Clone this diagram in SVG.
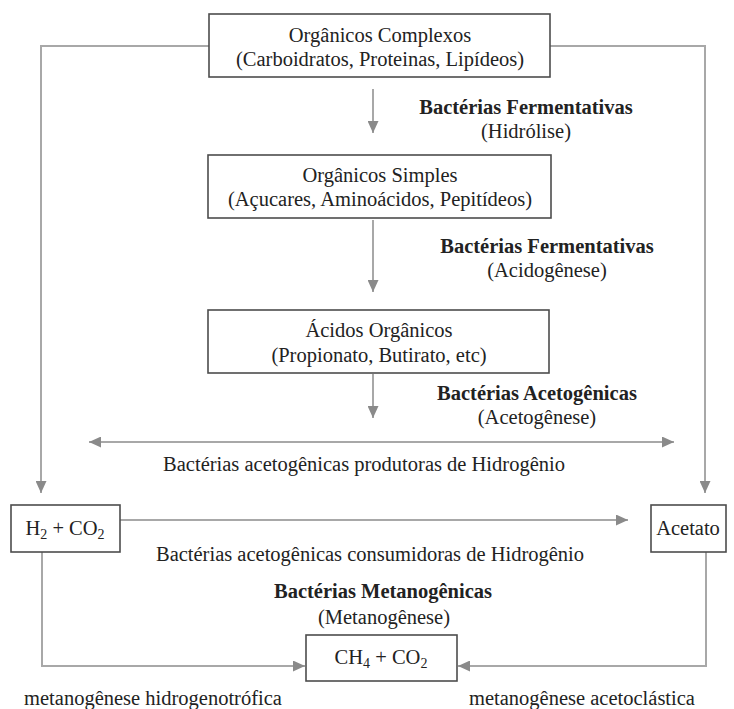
<svg xmlns="http://www.w3.org/2000/svg" width="734" height="709" viewBox="0 0 734 709">
  <style>
    text { font-family: "Liberation Serif", "Times New Roman", serif; font-size: 20.5px; fill: #222; text-anchor: middle; }
    .b { font-weight: bold; }
    .sub { font-size: 14px; }
    .box { fill: #fff; stroke: #4d4d4d; stroke-width: 1.6; }
    .con { fill: none; stroke: #a8a8a8; stroke-width: 2; }
  </style>
  <defs>
    <marker id="ah" markerUnits="userSpaceOnUse" markerWidth="13" markerHeight="11" refX="12" refY="5.5" orient="auto-start-reverse">
      <path d="M0,0 L12,5.5 L0,11 z" fill="#8a8a8a"/>
    </marker>
  </defs>
  <rect width="734" height="709" fill="#fff"/>

  <g id="connectors">
    <path class="con" d="M209,46 H41 V493" marker-end="url(#ah)"/>
    <path class="con" d="M550,46 H705 V493" marker-end="url(#ah)"/>
    <path class="con" d="M373,89 V133" marker-end="url(#ah)"/>
    <path class="con" d="M373,220 V292" marker-end="url(#ah)"/>
    <path class="con" d="M373,374 V418" marker-end="url(#ah)"/>
    <path class="con" d="M89,442 H674" marker-start="url(#ah)" marker-end="url(#ah)"/>
    <path class="con" d="M120,520 H628" marker-end="url(#ah)"/>
    <path class="con" d="M42,552 V666 H305" marker-end="url(#ah)"/>
    <path class="con" d="M706,552 V666 H458" marker-end="url(#ah)"/>
  </g>

  <g id="organicos-complexos">
    <rect class="box" x="209" y="14" width="341" height="63"/>
    <text x="380" y="42">Orgânicos Complexos</text>
    <text x="380" y="66">(Carboidratos, Proteinas, Lipídeos)</text>
  </g>

  <g id="hidrolise">
    <text class="b" x="526" y="114">Bactérias Fermentativas</text>
    <text x="526" y="138">(Hidrólise)</text>
  </g>

  <g id="organicos-simples">
    <rect class="box" x="208" y="155" width="343" height="63"/>
    <text x="380" y="182">Orgânicos Simples</text>
    <text x="380" y="206">(Açucares, Aminoácidos, Pepitídeos)</text>
  </g>

  <g id="acidogenese">
    <text class="b" x="547" y="253">Bactérias Fermentativas</text>
    <text x="547" y="277">(Acidogênese)</text>
  </g>

  <g id="acidos-organicos">
    <rect class="box" x="208" y="310" width="341" height="63"/>
    <text x="379" y="337">Ácidos Orgânicos</text>
    <text x="379" y="362">(Propionato, Butirato, etc)</text>
  </g>

  <g id="acetogenese">
    <text class="b" x="537" y="400">Bactérias Acetogênicas</text>
    <text x="537" y="424">(Acetogênese)</text>
  </g>

  <g id="produtoras">
    <text x="364" y="471">Bactérias acetogênicas produtoras de Hidrogênio</text>
  </g>

  <g id="h2-co2">
    <rect class="box" x="11" y="505" width="109" height="47"/>
    <text x="65" y="535">H<tspan class="sub" dy="4">2</tspan><tspan dy="-4"> + CO</tspan><tspan class="sub" dy="4">2</tspan></text>
  </g>

  <g id="acetato">
    <rect class="box" x="651" y="505" width="75" height="47"/>
    <text x="688" y="535">Acetato</text>
  </g>

  <g id="consumidoras">
    <text x="370" y="561">Bactérias acetogênicas consumidoras de Hidrogênio</text>
  </g>

  <g id="metanogenese">
    <text class="b" x="383" y="598">Bactérias Metanogênicas</text>
    <text x="384" y="624">(Metanogênese)</text>
  </g>

  <g id="ch4-co2">
    <rect class="box" x="306" y="635" width="151" height="46"/>
    <text x="381" y="664">CH<tspan class="sub" dy="4">4</tspan><tspan dy="-4"> + CO</tspan><tspan class="sub" dy="4">2</tspan></text>
  </g>

  <g id="rotas">
    <text x="153" y="705">metanogênese hidrogenotrófica</text>
    <text x="582" y="705">metanogênese acetoclástica</text>
  </g>
</svg>
